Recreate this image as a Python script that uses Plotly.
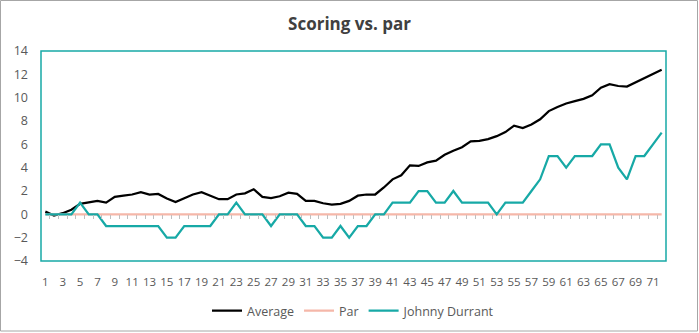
import plotly.graph_objects as go

holes = list(range(1, 73))
average = [0.23, -0.1, 0.1, 0.4, 0.9, 1.0, 1.15, 1.0, 1.5, 1.6,
           1.7, 1.9, 1.7, 1.75, 1.35, 1.05, 1.35, 1.7, 1.9, 1.6,
           1.3, 1.3, 1.7, 1.8, 2.15, 1.5, 1.4, 1.55, 1.85, 1.75,
           1.15, 1.15, 0.95, 0.83, 0.9, 1.15, 1.6, 1.7, 1.7, 2.3,
           3.0, 3.35, 4.2, 4.15, 4.45, 4.6, 5.1, 5.45, 5.75, 6.25,
           6.3, 6.45, 6.7, 7.05, 7.6, 7.4, 7.7, 8.15, 8.85, 9.2,
           9.5, 9.7, 9.9, 10.2, 10.85, 11.15, 11.0, 10.95, 11.3, 11.7,
           12.05, 12.4]
par = [0] * 72
johnny = [0, 0, 0, 0, 1, 0, 0, -1, -1, -1,
          -1, -1, -1, -1, -2, -2, -1, -1, -1, -1,
          0, 0, 1, 0, 0, 0, -1, 0, 0, 0,
          -1, -1, -2, -2, -1, -2, -1, -1, 0, 0,
          1, 1, 1, 2, 2, 1, 1, 2, 1, 1,
          1, 1, 0, 1, 1, 1, 2, 3, 5, 5,
          4, 5, 5, 5, 6, 6, 4, 3, 5, 5,
          6, 7]
x_tick_labels = [str(h) for h in holes if h % 2 == 1]
y_ticks = list(range(-4, 15, 2))

font_family = "Open Sans, Noto Sans, sans-serif"
teal = "#17A9A6"

fig = go.Figure()
fig.add_trace(go.Scatter(x=holes, y=average, name="Average", mode="lines",
                         line=dict(color="#000000", width=2.25)))
fig.add_trace(go.Scatter(x=holes, y=par, name="Par", mode="lines",
                         line=dict(color="#F5B7A9", width=2.25)))
fig.add_trace(go.Scatter(x=holes, y=johnny, name="Johnny Durrant", mode="lines",
                         line=dict(color=teal, width=2.25)))
# invisible trace to activate the boundary tick axis
fig.add_trace(go.Scatter(x=[holes[0]], y=[0], xaxis="x2", yaxis="y",
                         mode="lines", showlegend=False, hoverinfo="skip",
                         line=dict(color="rgba(0,0,0,0)")))

fig.update_layout(
    width=699, height=333,
    margin=dict(l=41, r=33, t=51, b=72, autoexpand=False),
    paper_bgcolor="white", plot_bgcolor="white",
    font=dict(family=font_family, color="#595959", size=12),
    title=dict(text="<b>Scoring vs. par</b>", x=0.5, xanchor="center",
               y=1 - 24 / 333, yanchor="middle", automargin=False,
               font=dict(size=17, color="#404040", family=font_family)),
    xaxis=dict(range=[0.5, 72.5], tickmode="array", automargin=False,
               tickvals=[h for h in holes if h % 2 == 1],
               ticktext=x_tick_labels, showgrid=False, zeroline=False,
               showline=False, ticks="", ticklabelstandoff=12,
               tickfont=dict(size=11.5, color="#595959")),
    xaxis2=dict(range=[0.5, 72.5], overlaying="x", anchor="free",
                position=4 / 18, tickmode="array", automargin=False,
                tickvals=[h + 0.5 for h in holes[:-1]],
                ticktext=["" for h in holes[:-1]], ticks="outside",
                ticklen=4, tickcolor="#BFBFBF", tickwidth=1,
                showgrid=False, zeroline=False, showline=False,
                showticklabels=False),
    yaxis=dict(range=[-4, 14], tickmode="array", tickvals=y_ticks,
               showgrid=False, zeroline=False, showline=False, ticks="",
               ticklabelstandoff=12, domain=[0, 1], automargin=False,
               tickfont=dict(size=12.5, color="#595959")),
    legend=dict(orientation="h", x=0.5, xanchor="center",
                yref="container", y=1 - 311 / 333, yanchor="middle",
                font=dict(size=12.5, color="#595959"),
                itemwidth=30, tracegroupgap=0),
    shapes=[
        dict(type="rect", xref="x domain", yref="y domain",
             x0=0, x1=1, y0=0, y1=1, line=dict(color=teal, width=1.5),
             layer="above"),
        dict(type="rect", xref="paper", yref="paper",
             x0=-40.5 / 625, x1=1 + 31.5 / 625,
             y0=-70 / 210, y1=1 + 50.5 / 210,
             line=dict(color="#A6A6A6", width=1)),
    ],
)

fig.write_html("out.html")
